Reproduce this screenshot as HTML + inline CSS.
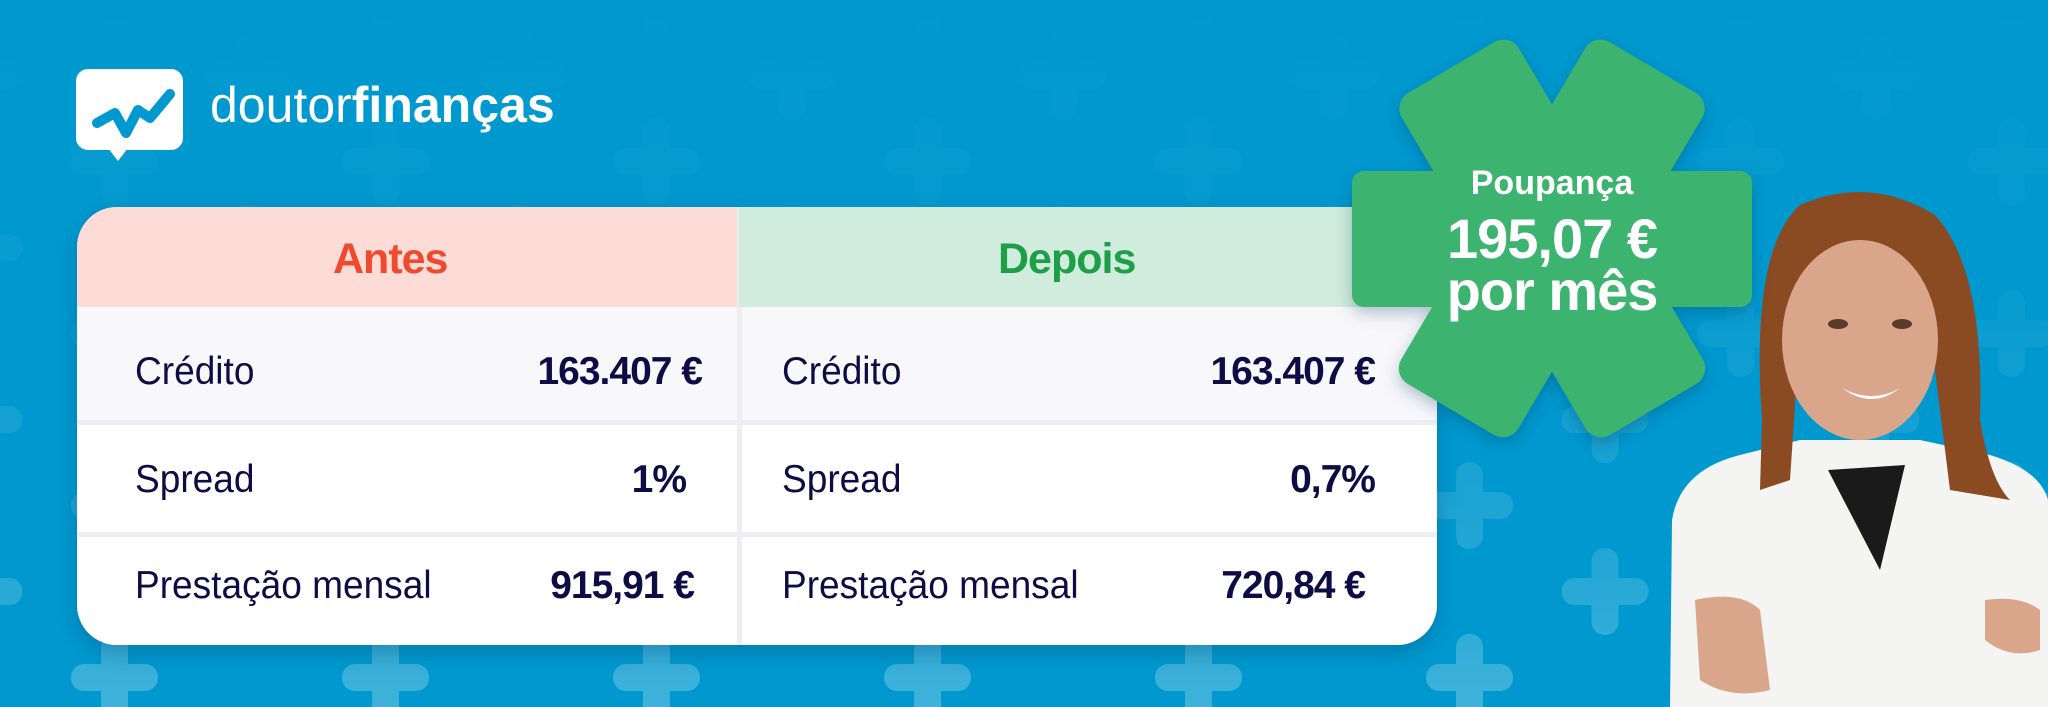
<!DOCTYPE html>
<html><head><meta charset="utf-8"><style>
*{margin:0;padding:0;box-sizing:border-box}
body{width:2048px;height:707px;overflow:hidden;background:#0099cf;font-family:"Liberation Sans",sans-serif;position:relative}
.abs{position:absolute}
.t{position:absolute;color:#0e0c44;white-space:nowrap;font-size:39px}
.b{font-weight:bold;letter-spacing:-1px}
.l{transform:scaleX(0.95);transform-origin:left}
</style></head><body>
<svg class="abs" style="left:0;top:0" width="2048" height="707">
<defs>
<g id="p" fill="#fff"><rect x="-13" y="-43" width="27" height="87" rx="13" /><rect x="-43" y="-13" width="87" height="27" rx="13"/></g>
<pattern id="pat" x="114" y="677" width="271" height="172" patternUnits="userSpaceOnUse">
<use href="#p" x="0" y="0"/><use href="#p" x="271" y="0"/><use href="#p" x="0" y="172"/><use href="#p" x="271" y="172"/>
<use href="#p" x="135.5" y="86"/><use href="#p" x="135.5" y="-86"/>
</pattern>
<linearGradient id="fg" x1="0" y1="0" x2="0" y2="1">
<stop offset="0" stop-color="#fff" stop-opacity="0"/><stop offset="0.45" stop-color="#fff" stop-opacity="0.04"/><stop offset="0.8" stop-color="#fff" stop-opacity="0.14"/><stop offset="1" stop-color="#fff" stop-opacity="0.25"/>
</linearGradient>
<mask id="m" maskUnits="userSpaceOnUse" x="0" y="0" width="2048" height="707"><rect width="2048" height="707" fill="url(#fg)"/></mask>
</defs>
<rect width="2048" height="707" fill="url(#pat)" mask="url(#m)"/>
<rect x="76" y="69" width="107" height="81" rx="12" fill="#fff"/>
<polygon points="108,148 128,148 118,161" fill="#fff"/>
<polyline points="97,123 115,113 126,133 138,110 150,118 170,94" fill="none" stroke="#0099cf" stroke-width="10" stroke-linecap="round" stroke-linejoin="round"/>
<path d="M1670,707 L1672,520 Q1680,470 1740,455 L1800,440 L1920,440 L1990,455 Q2040,470 2048,500 L2048,707 Z" fill="#f4f4f2"/>
<path d="M1828,470 L1905,465 L1880,570 Z" fill="#1a1a1a"/>
<path d="M1762,420 Q1750,250 1800,205 Q1870,175 1935,215 Q1985,270 1980,420 Q1990,480 2010,500 L1950,490 L1930,330 L1800,330 L1790,480 L1760,490 Z" fill="#8a4a22"/>
<ellipse cx="1860" cy="340" rx="78" ry="100" fill="#d9a68b"/>
<path d="M1790,290 Q1800,215 1870,218 Q1930,222 1940,300 L1945,250 Q1930,200 1870,198 Q1800,198 1785,260 Z" fill="#8a4a22"/>
<ellipse cx="1838" cy="324" rx="10" ry="5" fill="#5a3a28"/><ellipse cx="1902" cy="324" rx="10" ry="5" fill="#5a3a28"/>
<path d="M1842,388 Q1872,404 1900,388 Q1872,410 1842,388 Z" fill="#fff"/>
<path d="M1695,600 Q1740,590 1760,610 L1770,690 Q1730,700 1700,680 Z" fill="#d9a68b"/>
<path d="M1985,600 Q2020,595 2040,610 L2040,650 Q2010,660 1985,640 Z" fill="#d9a68b"/>
</svg>
<div class="abs" style="left:210px;top:76px;font-size:50px;color:#fff;letter-spacing:0px">doutor<b>finanças</b></div>

<div class="abs" style="left:77px;top:207px;width:1360px;height:438px;border-radius:40px;overflow:hidden;background:#ededf3;box-shadow:0 8px 20px rgba(0,40,80,.25)">
<div class="abs" style="left:0;top:0;width:660px;height:100px;background:#fddbd6"></div>
<div class="abs" style="left:662px;top:0;width:698px;height:100px;background:#d0ecdc"></div>
<div class="abs" style="left:0;top:100px;width:660px;height:113px;background:#f8f8fb"></div>
<div class="abs" style="left:665px;top:100px;width:695px;height:113px;background:#f8f8fb"></div>
<div class="abs" style="left:0;top:218px;width:660px;height:107px;background:#fff"></div>
<div class="abs" style="left:665px;top:218px;width:695px;height:107px;background:#fff"></div>
<div class="abs" style="left:0;top:330px;width:660px;height:108px;background:#fff"></div>
<div class="abs" style="left:665px;top:330px;width:695px;height:108px;background:#fff"></div>
</div>
<div class="t b" style="left:333px;top:235px;font-size:43px;color:#f04a2e">Antes</div>
<div class="t b" style="left:998px;top:235px;font-size:43px;color:#1f9e4a">Depois</div>

<div class="t l" style="left:135px;top:350px">Crédito</div>
<div class="t b" style="right:1346px;top:350px">163.407 €</div>
<div class="t l" style="left:135px;top:458px">Spread</div>
<div class="t b" style="right:1362px;top:458px">1%</div>
<div class="t l" style="left:135px;top:564px">Prestação mensal</div>
<div class="t b" style="right:1354px;top:564px">915,91 €</div>

<div class="t l" style="left:782px;top:350px">Crédito</div>
<div class="t b" style="right:673px;top:350px">163.407 €</div>
<div class="t l" style="left:782px;top:458px">Spread</div>
<div class="t b" style="right:673px;top:458px">0,7%</div>
<div class="t l" style="left:782px;top:564px">Prestação mensal</div>
<div class="t b" style="right:683px;top:564px">720,84 €</div>

<svg class="abs" style="left:0;top:0" width="2048" height="707">
<defs><filter id="sh" x="-20%" y="-20%" width="140%" height="140%"><feDropShadow dx="0" dy="6" stdDeviation="8" flood-color="#003a5a" flood-opacity="0.3"/></filter></defs>
<g filter="url(#sh)"><g fill="#3eb370">
<rect x="1484" y="40" width="136" height="397" rx="18" transform="rotate(-30.6 1552 238)"/>
<rect x="1484" y="40" width="136" height="397" rx="18" transform="rotate(30.6 1552 238)"/>
<rect x="1352" y="171" width="400" height="136" rx="12"/>
</g></g>
</svg>
<div class="abs" style="left:1402px;top:164px;width:300px;text-align:center;color:#fff;font-weight:bold;font-size:34px">Poupança</div>
<div class="abs" style="left:1402px;top:213px;width:300px;text-align:center;color:#fff;font-weight:bold;font-size:56px;line-height:52px;letter-spacing:-1px">195,07 €<br>por mês</div>
</body></html>
